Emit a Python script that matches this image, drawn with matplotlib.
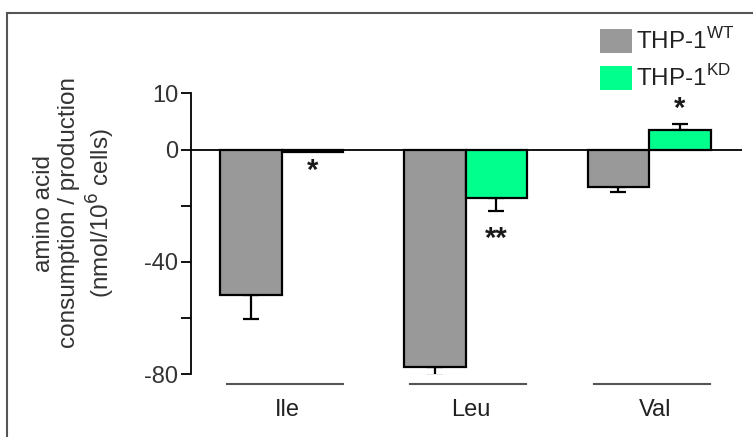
import numpy as np
import matplotlib
matplotlib.use("Agg")
import matplotlib.pyplot as plt
from matplotlib.patches import Rectangle
from matplotlib.transforms import blended_transform_factory

plt.rcParams['font.family'] = ['Liberation Sans', 'DejaVu Sans']

categories = ['Ile', 'Leu', 'Val']
wt_values = [-51.8, -77.4, -13.3]
wt_errors = [8.4, 3.1, 2.0]
kd_values = [-1.0, -17.2, 3.45]
kd_errors = [0.0, 4.6, 1.1]
kd_stars = ['*', '**', '*']
star_y = [-7.6, -31.9, 7.2]

wt_color = '#999999'
kd_color = '#00ff8c'


# the axis above zero is stretched 2x in the original figure
def fwd(y):
    y = np.asarray(y, dtype=float)
    return np.where(y > 0, 2 * y, y)


def inv(y):
    y = np.asarray(y, dtype=float)
    return np.where(y > 0, y / 2, y)


fig = plt.figure(figsize=(7.53, 4.37), dpi=100)
W, H = 753, 437

# outer frame
fig.patches.append(Rectangle((7 / W, -0.1), 1.2, (437 - 13) / H + 0.1,
                             transform=fig.transFigure, fill=False,
                             edgecolor='#555555', linewidth=1.5))

ax = fig.add_axes([190.7 / W, (H - 374.3) / H, (741.7 - 190.7) / W, (374.3 - 93.3) / H])
ax.set_yscale('function', functions=(fwd, inv))
ax.set_ylim(-80, 10)
ax.set_xlim(-0.497, 2.504)

x = np.arange(len(categories))
bw = 0.335
ax.bar(x - bw / 2, wt_values, bw, color=wt_color, edgecolor='black', linewidth=1.6, zorder=2)
ax.bar(x + bw / 2, kd_values, bw, color=kd_color, edgecolor='black', linewidth=1.6, zorder=2)

wt_err = [[e if v < 0 else 0 for v, e in zip(wt_values, wt_errors)],
          [e if v > 0 else 0 for v, e in zip(wt_values, wt_errors)]]
kd_err = [[e if v < 0 else 0 for v, e in zip(kd_values, kd_errors)],
          [e if v > 0 else 0 for v, e in zip(kd_values, kd_errors)]]
ax.errorbar(x - bw / 2, wt_values, yerr=wt_err, fmt='none', ecolor='black',
            elinewidth=1.6, capsize=6, capthick=1.6, zorder=1)
keep = [i for i, e in enumerate(kd_errors) if e > 0]
ax.errorbar([x[i] + bw / 2 for i in keep], [kd_values[i] for i in keep],
            yerr=[[kd_err[0][i] for i in keep], [kd_err[1][i] for i in keep]],
            fmt='none', ecolor='black', elinewidth=1.6, capsize=6,
            capthick=1.6, zorder=1)

for xi, s, sy in zip(x, kd_stars, star_y):
    ax.text(xi + bw / 2, sy, s, ha='center', va='center', fontsize=21,
            color='#1a1a1a', fontweight='bold')

ax.axhline(0, color='black', linewidth=1.3, zorder=3)

for s in ['top', 'right', 'bottom']:
    ax.spines[s].set_visible(False)
ax.spines['left'].set_linewidth(1.3)
ax.set_yticks([10, 0, -20, -40, -60, -80])
ax.set_yticklabels(['10', '0', '', '-40', '', '-80'])
ax.tick_params(axis='y', direction='out', length=7, width=1.3, labelsize=17,
               pad=2, labelcolor='#333333')
ax.set_xticks([])

trans = blended_transform_factory(ax.transData, fig.transFigure)
for xi, name in zip(x, categories):
    ax.plot([xi - 0.30, xi + 0.33], [(H - 384) / H] * 2, color='#555555',
            linewidth=1.5, transform=trans, clip_on=False)
    ax.text(xi + 0.03, (H - 410) / H, name, transform=trans, ha='center',
            va='center', fontsize=17, color='#222222')

fig.text(75 / W, (H - 213) / H,
         'amino acid\nconsumption / production\n(nmol/10$^6$ cells)',
         rotation=90, ha='center', va='center', multialignment='center',
         fontsize=17.5, color='#333333', linespacing=1.2)

# legend
for yy, col, sup in [(29, wt_color, 'WT'), (66, kd_color, 'KD')]:
    fig.patches.append(Rectangle((600 / W, (H - yy - 24) / H), 32 / W, 24 / H,
                                 transform=fig.transFigure, facecolor=col,
                                 edgecolor='none'))
    fig.text(636 / W, (H - yy - 12) / H, 'THP-1$^{\\mathregular{' + sup + '}}$',
             ha='left', va='center', fontsize=17.5, color='#222222')

fig.savefig('out.png', dpi=100)
